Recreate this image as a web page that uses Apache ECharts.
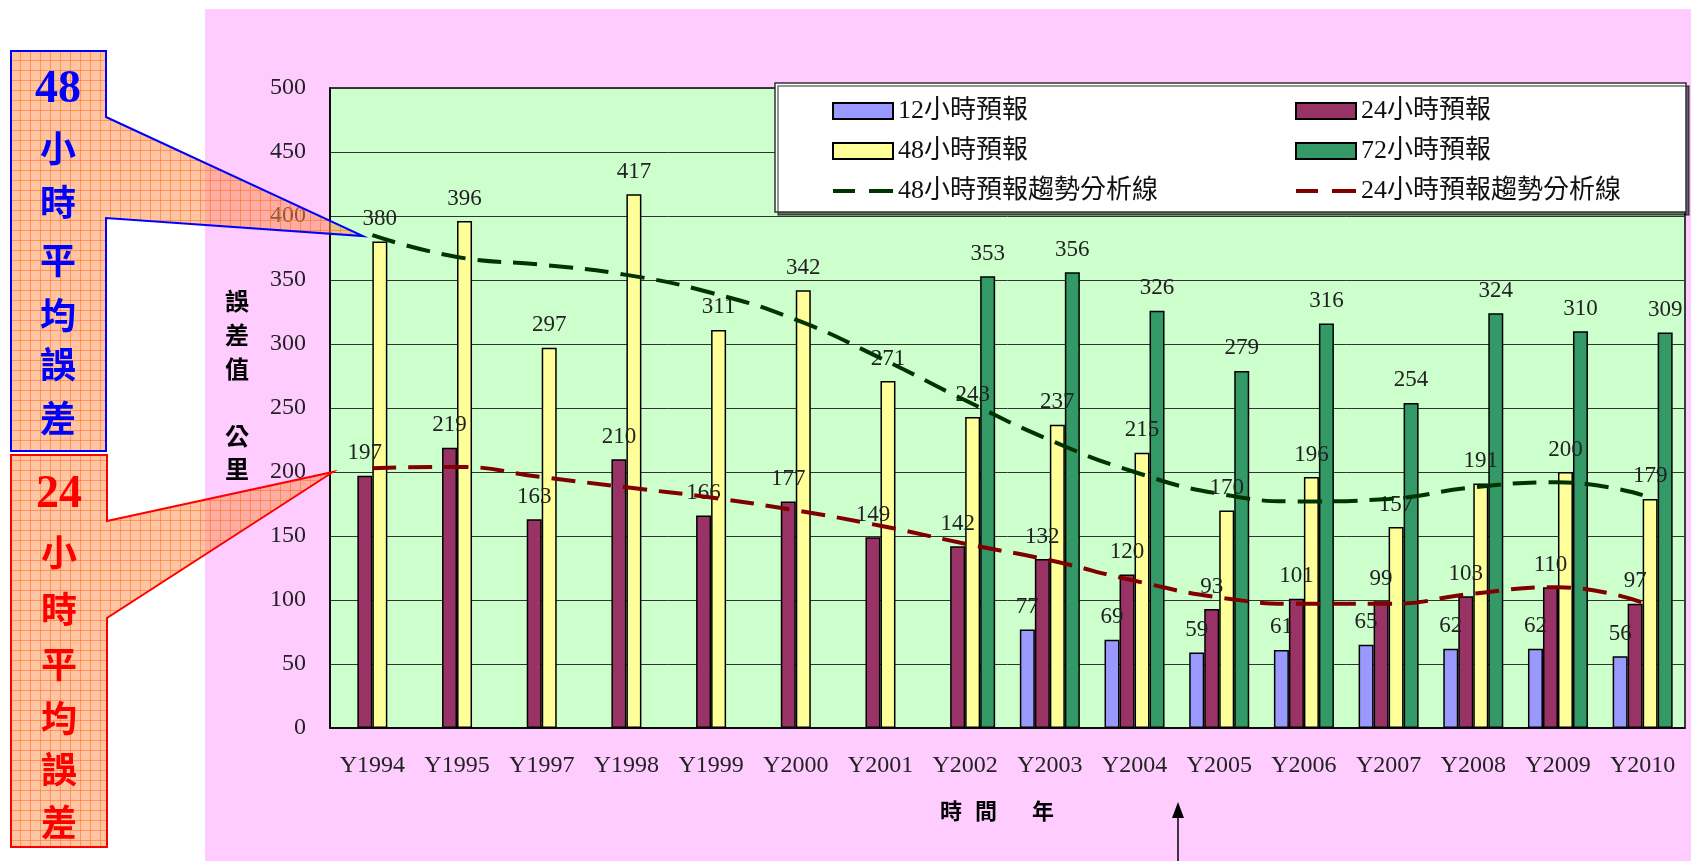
<!DOCTYPE html>
<html>
<head>
<meta charset="utf-8">
<script src="https://cdn.jsdelivr.net/npm/echarts@6/dist/echarts.min.js"></script>
<style>
html, body { margin: 0; padding: 0; background: #fff; }
#main { width: 1691px; height: 861px; }
</style>
</head>
<body>
<div id="main"></div>
<script>
// 類別 (年)
var years = ['Y1994', 'Y1995', 'Y1997', 'Y1998', 'Y1999', 'Y2000', 'Y2001', 'Y2002',
             'Y2003', 'Y2004', 'Y2005', 'Y2006', 'Y2007', 'Y2008', 'Y2009', 'Y2010'];

// 各預報誤差值 (公里)
var err12 = [null, null, null, null, null, null, null, null, 77, 69, 59, 61, 65, 62, 62, 56];
var err24 = [197, 219, 163, 210, 166, 177, 149, 142, 132, 120, 93, 101, 99, 103, 110, 97];
var err48 = [380, 396, 297, 417, 311, 342, 271, 243, 237, 215, 170, 196, 157, 191, 200, 179];
var err72 = [null, null, null, null, null, null, null, 353, 356, 326, 279, 316, 254, 324, 310, 309];

// 趨勢分析線
var trend48 = [385, 368, 362, 354, 340, 319, 289, 256, 225, 200, 183, 177, 179, 188, 192, 182];
var trend24 = [203, 204, 196, 188, 180, 170, 158, 144, 131, 115, 102, 97, 97, 105, 110, 98];

// 座標軸刻度
var yTicks = { min: 0, max: 500, step: 50 };

var SERIF = "'Liberation Serif', 'Noto Sans CJK TC', serif";
var CJK = "'Noto Sans CJK TC', sans-serif";

// 圖例的虛線圖示
var dashIcon = 'path://M0,0h0.01v0.01h-0.01z M0,6h22v4h-22z M36,6h24v4h-24z M59.99,15.99h0.01v0.01h-0.01z';

// 格子花紋 (說明框)
function gridPattern() {
    var c = document.createElement('canvas');
    c.width = 10; c.height = 10;
    var ctx = c.getContext('2d');
    ctx.fillStyle = 'rgba(255,140,70,0.5)';
    ctx.fillRect(0, 0, 10, 10);
    ctx.strokeStyle = 'rgba(255,110,30,0.55)';
    ctx.lineWidth = 1;
    ctx.beginPath();
    ctx.moveTo(0.5, 0); ctx.lineTo(0.5, 10);
    ctx.moveTo(0, 0.5); ctx.lineTo(10, 0.5);
    ctx.stroke();
    return c;
}

function txt(ch, x, y, size, color, font, weight, z) {
    return {
        type: 'text', z: z, x: x, y: y,
        style: { text: ch, fill: color, font: weight + ' ' + size + 'px ' + font,
                 textAlign: 'center', textVerticalAlign: 'middle' }
    };
}

function vText(chars, x, ys, size, color, font, weight, z) {
    return chars.map(function (ch, i) {
        return txt(ch, x, ys[i], size, color, font, weight, z);
    });
}

var myCharts = echarts.init(document.getElementById('main'));
var pat = gridPattern();

function barSeries(name, data, color) {
    return {
        name: name, type: 'bar', data: data, barWidth: 15, barGap: '0%',
        itemStyle: { color: color, borderColor: '#000', borderWidth: 1.5 },
        label: { show: true, position: 'top', distance: 11, color: '#222',
                 fontFamily: SERIF, fontSize: 23 }
    };
}

function trendSeries(name, data, color) {
    return {
        name: name, type: 'line', data: data, smooth: 0.5, symbol: 'none', z: 5,
        itemStyle: { color: color },
        lineStyle: { color: color, width: 4, type: [24, 12] }
    };
}

var graphics = [
    { type: 'rect', z: 1, shape: { x: 0, y: 0, width: 205, height: 861 }, style: { fill: '#fff' } },
    { type: 'rect', z: 1, shape: { x: 0, y: 0, width: 1691, height: 9 }, style: { fill: '#fff' } },
    // 圖例框
    { type: 'rect', z: 3, shape: { x: 775, y: 83, width: 911, height: 129 },
      style: { fill: '#fff', stroke: '#333', lineWidth: 1.5,
               shadowColor: 'rgba(0,0,0,0.55)', shadowOffsetX: 3, shadowOffsetY: 3 } },
    // 48小時 說明框
    { type: 'polygon', z: 20,
      shape: { points: [[11, 51], [106, 51], [106, 117], [363, 236], [106, 218], [106, 451], [11, 451]] },
      style: { fill: { image: pat, repeat: 'repeat' }, stroke: '#0000ff', lineWidth: 2 } },
    txt('48', 58, 90, 46, '#0000ff', SERIF, 'bold', 21),
    // 24小時 說明框
    { type: 'polygon', z: 20,
      shape: { points: [[11, 455], [107, 455], [107, 521], [333, 472], [107, 618], [107, 847], [11, 847]] },
      style: { fill: { image: pat, repeat: 'repeat' }, stroke: '#ff0000', lineWidth: 2 } },
    txt('24', 59, 495, 46, '#ff0000', SERIF, 'bold', 21),
    // 時間軸箭頭
    { type: 'line', z: 5, shape: { x1: 1178, y1: 861, x2: 1178, y2: 812 },
      style: { stroke: '#000', lineWidth: 1.5 } },
    { type: 'polygon', z: 5, shape: { points: [[1178, 802], [1172, 818], [1184, 818]] },
      style: { fill: '#000' } }
];

graphics = graphics
    .concat(vText(['小', '時', '平', '均', '誤', '差'], 58, [148, 202, 260, 315, 364, 418], 36, '#0000ff', CJK, 'bold', 21))
    .concat(vText(['小', '時', '平', '均', '誤', '差'], 59, [552, 609, 664, 718, 769, 822], 36, '#ff0000', CJK, 'bold', 21))
    .concat(vText(['誤', '差', '值', '公', '里'], 237, [301, 335, 369, 436, 469], 24, '#000', CJK, 'bold', 5))
    .concat([
        txt('時', 951, 811, 22, '#000', CJK, 'bold', 5),
        txt('間', 986, 811, 22, '#000', CJK, 'bold', 5),
        txt('年', 1043, 811, 22, '#000', CJK, 'bold', 5)
    ]);

var legendBase = {
    orient: 'vertical', top: 93, itemWidth: 60, itemHeight: 16, itemGap: 14, z: 10,
    textStyle: { fontFamily: SERIF, fontSize: 26, color: '#111' }
};

var option = {
    backgroundColor: '#ffccff',
    animation: false,
    grid: {
        left: 330, top: 88, width: 1355, height: 640, show: true,
        backgroundColor: '#ccffcc', borderColor: '#000', borderWidth: 1.5
    },
    legend: [
        Object.assign({}, legendBase, { left: 827, data: [
            { name: '12小時預報', icon: 'rect' },
            { name: '48小時預報', icon: 'rect' },
            { name: '48小時預報趨勢分析線', icon: dashIcon }
        ] }),
        Object.assign({}, legendBase, { left: 1290, data: [
            { name: '24小時預報', icon: 'rect' },
            { name: '72小時預報', icon: 'rect' },
            { name: '24小時預報趨勢分析線', icon: dashIcon }
        ] })
    ],
    xAxis: {
        type: 'category', data: years,
        axisLine: { lineStyle: { color: '#000', width: 1.5 } },
        axisTick: { inside: true, length: 6, lineStyle: { color: '#000' } },
        axisLabel: { interval: 0, margin: 26, color: '#222', fontFamily: SERIF, fontSize: 24 }
    },
    yAxis: {
        type: 'value', min: yTicks.min, max: yTicks.max, interval: yTicks.step,
        axisLine: { show: true, lineStyle: { color: '#000', width: 1.5 } },
        axisTick: { show: false },
        splitLine: { lineStyle: { color: '#333', width: 1 } },
        axisLabel: { margin: 24, color: '#222', fontFamily: SERIF, fontSize: 24 }
    },
    series: [
        barSeries('12小時預報', err12, '#9999ff'),
        barSeries('24小時預報', err24, '#993366'),
        barSeries('48小時預報', err48, '#ffff99'),
        barSeries('72小時預報', err72, '#339966'),
        trendSeries('48小時預報趨勢分析線', trend48, '#003300'),
        trendSeries('24小時預報趨勢分析線', trend24, '#800000')
    ],
    graphic: graphics
};

myCharts.setOption(option);
</script>
</body>
</html>
